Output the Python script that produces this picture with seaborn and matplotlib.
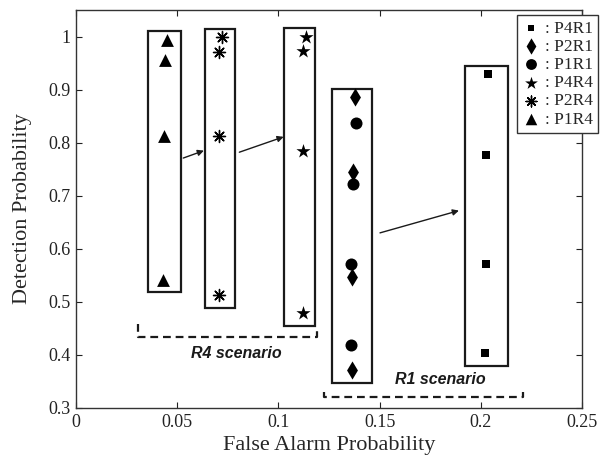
import matplotlib
matplotlib.use("Agg")
import matplotlib.pyplot as plt
from matplotlib.patches import Rectangle
import seaborn as sns
import pandas as pd

# ---- data ----
series_order = ["P4R1", "P2R1", "P1R1", "P4R4", "P2R4", "P1R4"]

p4r1_x = [0.2037, 0.2026, 0.2024, 0.2020]
p4r1_y = [0.929, 0.777, 0.571, 0.403]
p2r1_x = [0.1378, 0.1370, 0.1366, 0.1362]
p2r1_y = [0.886, 0.744, 0.547, 0.371]
p1r1_x = [0.1383, 0.1368, 0.1360, 0.1360]
p1r1_y = [0.837, 0.722, 0.571, 0.418]
p4r4_x = [0.1135, 0.1123, 0.1120, 0.1120]
p4r4_y = [1.000, 0.973, 0.785, 0.479]
p2r4_x = [0.0720, 0.0708, 0.0705, 0.0705]
p2r4_y = [0.999, 0.971, 0.813, 0.512]
p1r4_x = [0.0448, 0.0440, 0.0436, 0.0432]
p1r4_y = [0.994, 0.956, 0.813, 0.542]

x_ticks = [0, 0.05, 0.1, 0.15, 0.2, 0.25]
x_tick_labels = ["0", "0.05", "0.1", "0.15", "0.2", "0.25"]
y_ticks = [0.3, 0.4, 0.5, 0.6, 0.7, 0.8, 0.9, 1.0]
y_tick_labels = ["0.3", "0.4", "0.5", "0.6", "0.7", "0.8", "0.9", "1"]

xs = {"P4R1": p4r1_x, "P2R1": p2r1_x, "P1R1": p1r1_x,
      "P4R4": p4r4_x, "P2R4": p2r4_x, "P1R4": p1r4_x}
ys = {"P4R1": p4r1_y, "P2R1": p2r1_y, "P1R1": p1r1_y,
      "P4R4": p4r4_y, "P2R4": p2r4_y, "P1R4": p1r4_y}

rows = []
for s in series_order:
    for xv, yv in zip(xs[s], ys[s]):
        rows.append({"fa": xv, "pd": yv, "series": s})
df = pd.DataFrame(rows)

# ---- style ----
sns.set_theme(style="ticks")
plt.rcParams["font.family"] = ["Liberation Serif", "DejaVu Serif"]

markers = {"P4R1": "s", "P2R1": "d", "P1R1": "o",
           "P4R4": "*", "P2R4": (8, 2, 0), "P1R4": "^"}
sizes = {"P4R1": 30, "P2R1": 85, "P1R1": 75,
         "P4R4": 115, "P2R4": 75, "P1R4": 85}

fig = plt.figure(figsize=(6.07, 4.65), dpi=100)
ax = fig.add_axes([0.1252, 0.1226, 0.8336, 0.8559])

for s in series_order:
    sub = df[df["series"] == s]
    sns.scatterplot(data=sub, x="fa", y="pd", marker=markers[s], s=sizes[s],
                    color="black", edgecolor="black",
                    linewidth=1.0 if s == "P2R4" else 0,
                    label=": " + s, ax=ax, zorder=3)

ax.set_xlim(0, 0.25)
ax.set_ylim(0.3, 1.05)
ax.set_xticks(x_ticks)
ax.set_xticklabels(x_tick_labels)
ax.set_yticks(y_ticks)
ax.set_yticklabels(y_tick_labels)
ax.tick_params(direction="in", length=4, width=0.8, labelsize=13,
               top=True, right=True, colors="#222222", pad=4)
for sp in ax.spines.values():
    sp.set_visible(True)
    sp.set_linewidth(1.0)
    sp.set_color("#333333")
ax.set_xlabel("False Alarm Probability", fontsize=16, labelpad=4)
ax.set_ylabel("Detection Probability", fontsize=16, labelpad=12)

# ---- grouping boxes around each group of points ----
groups = [
    (p1r4_x, p1r4_y, 0.016),
    (p2r4_x, p2r4_y, 0.015),
    (p4r4_x, p4r4_y, 0.015),
    (p2r1_x + p1r1_x, p2r1_y + p1r1_y, 0.020),
    (p4r1_x, p4r1_y, 0.021),
]
box_centers = [0.0437, 0.0712, 0.1105, 0.1364, 0.2027]
for (gx, gy, w), cx in zip(groups, box_centers):
    y0 = min(gy) - 0.024
    y1 = max(gy) + 0.016
    ax.add_patch(Rectangle((cx - w / 2, y0), w, y1 - y0, fill=False,
                           edgecolor="#1a1a1a", linewidth=1.6, zorder=2))

# ---- arrows ----
arrows = [((0.0530, 0.771), (0.0632, 0.785)),
          ((0.0807, 0.782), (0.1026, 0.811)),
          ((0.1502, 0.630), (0.1892, 0.672))]
for (x0, y0), (x1, y1) in arrows:
    ax.annotate("", xy=(x1, y1), xytext=(x0, y0),
                arrowprops=dict(arrowstyle="-|>", color="#1a1a1a", lw=1.0,
                                mutation_scale=9, shrinkA=0, shrinkB=0))

# ---- dashed brackets + scenario labels ----
ax.plot([0.0308, 0.0308, 0.1189, 0.1189], [0.458, 0.433, 0.433, 0.445],
        color="#1a1a1a", lw=1.6, linestyle=(0, (3.5, 2.2)), zorder=2)
ax.plot([0.1225, 0.1225, 0.2210, 0.2210], [0.3295, 0.320, 0.320, 0.3295],
        color="#1a1a1a", lw=1.6, linestyle=(0, (3.5, 2.2)), zorder=2)
ax.text(0.079, 0.403, "R4 scenario", ha="center", va="center",
        fontsize=11.5, fontweight="bold", fontstyle="italic",
        family=["Liberation Sans", "DejaVu Sans"], color="#1a1a1a")
ax.text(0.1798, 0.354, "R1 scenario", ha="center", va="center",
        fontsize=11.5, fontweight="bold", fontstyle="italic",
        family=["Liberation Sans", "DejaVu Sans"], color="#1a1a1a")

# ---- legend ----
handles, labels = ax.get_legend_handles_labels()
leg = ax.legend(handles, labels, loc="upper left",
                bbox_to_anchor=(0.8715, 0.987), borderaxespad=0,
                fontsize=12.5, frameon=True, fancybox=False,
                edgecolor="#333333", framealpha=1,
                handlelength=1.0, handletextpad=0.3, labelspacing=0.12,
                borderpad=0.3, markerscale=0.9)
leg.get_frame().set_linewidth(1.0)

fig.savefig("out.png", dpi=100)
